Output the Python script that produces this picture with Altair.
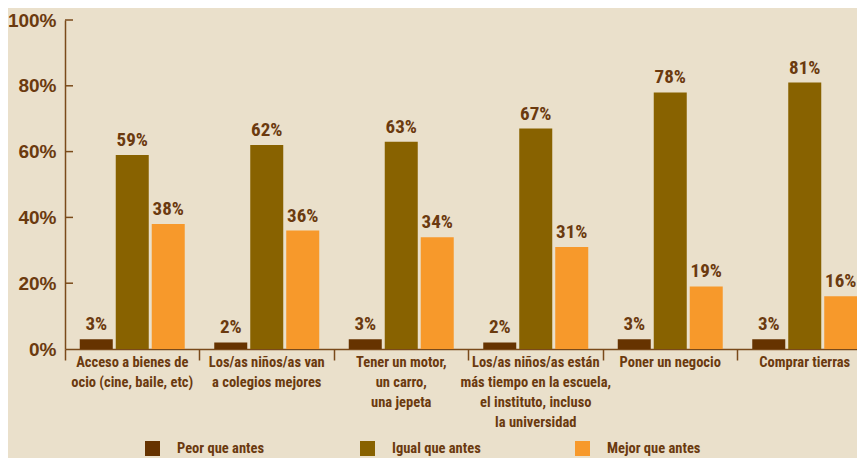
import altair as alt
import pandas as pd

categorias = [
    "Acceso a bienes de\nocio (cine, baile, etc)",
    "Los/as niños/as van\na colegios mejores",
    "Tener un motor,\nun carro,\nuna jepeta",
    "Los/as niños/as están\nmás tiempo en la escuela,\nel instituto, incluso\nla universidad",
    "Poner un negocio",
    "Comprar tierras",
]
series = ["Peor que antes", "Igual que antes", "Mejor que antes"]
peor = [3, 2, 3, 2, 3, 3]
igual = [59, 62, 63, 67, 78, 81]
mejor = [38, 36, 34, 31, 19, 16]
colores = ["#663300", "#886200", "#F7992B"]
y_ticks = [20, 40, 60, 80, 100]

rows = []
for i, c in enumerate(categorias):
    for s, vals in zip(series, [peor, igual, mejor]):
        rows.append({"cat": c, "serie": s, "valor": vals[i]})
df = pd.DataFrame(rows)
ticks_df = pd.DataFrame({"t": y_ticks})

TXT = "#6B3A0F"
AX = "#7A4A1A"
NARROW = "Roboto Condensed, Roboto, sans-serif"

yscale = alt.Scale(domain=[0, 100])

base = alt.Chart(df).encode(
    x=alt.X(
        "cat:N",
        sort=categorias,
        title=None,
        scale=alt.Scale(paddingInner=0, paddingOuter=0, range=[0, 807]),
        axis=alt.Axis(
            bandPosition=0,
            labelAngle=0,
            labelExpr="split(datum.label, '\\n')",
            labelFont=NARROW,
            labelFontSize=14.5,
            labelFontWeight="bold",
            labelColor=TXT,
            labelLineHeight=20,
            labelPadding=-5,
            labelBaseline="top",
            labelLimit=400,
            labelOverlap=False,
            tickSize=11,
            tickColor=AX,
            tickWidth=1.5,
            domainColor=AX,
            domainWidth=1.5,
            grid=False,
        ),
    ),
    xOffset=alt.XOffset(
        "serie:N", sort=series, scale=alt.Scale(paddingInner=0.083, paddingOuter=0.41)
    ),
    y=alt.Y(
        "valor:Q",
        scale=yscale,
        title=None,
        axis=alt.Axis(
            values=[0] + y_ticks,
            labelExpr="datum.value + '%'",
            labelFont="Liberation Sans, sans-serif",
            labelFontSize=19,
            labelFontWeight="bold",
            labelColor=TXT,
            labelPadding=9,
            tickSize=0,
            domainColor=AX,
            domainWidth=1.5,
            grid=False,
        ),
    ),
)

bars = base.mark_bar().encode(
    color=alt.Color(
        "serie:N",
        sort=series,
        scale=alt.Scale(domain=series, range=colores),
        legend=alt.Legend(
            title=None,
            orient="none",
            legendX=80,
            legendY=421,
            direction="horizontal",
            symbolType="square",
            symbolSize=225,
            symbolStrokeWidth=0,
            symbolOpacity=1,
            labelOffset=17,
            labelFont=NARROW,
            labelFontSize=14.5,
            labelFontWeight="bold",
            labelColor=TXT,
            columnPadding=89,
            gridAlign="all",
        ),
    )
)

labels = base.transform_calculate(lbl="datum.valor + '%'").mark_text(
    baseline="bottom",
    dy=-5,
    font=NARROW,
    fontSize=19,
    fontWeight="bold",
    color=TXT,
).encode(text="lbl:N")

yticks = alt.Chart(ticks_df).mark_rule(color=AX, strokeWidth=1.5).encode(
    y=alt.Y("t:Q", scale=yscale),
    x=alt.value(0),
    x2=alt.value(8),
)

chart = (
    alt.layer(bars, labels, yticks)
    .properties(
        width=792,
        height=329,
        background="#EAE0CB",
        autosize=alt.AutoSizeParams(type="none"),
        padding={"left": 57, "top": 12, "right": 0, "bottom": 109},
    )
    .configure_view(stroke=None)
)

chart.save("out.html", embed_options={"renderer": "svg", "actions": False})
